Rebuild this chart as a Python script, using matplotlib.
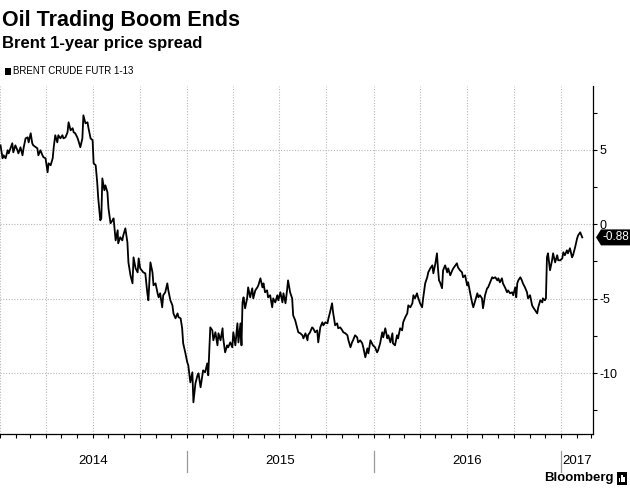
"""
Oil Trading Boom Ends -- Brent 1-year price spread (Bloomberg style).
Single right-axis line chart, saved to out.png (630 x 490 px).
"""
import matplotlib
matplotlib.use("Agg")
import matplotlib.pyplot as plt
import matplotlib.dates as mdates
import pandas as pd
from matplotlib.lines import Line2D
from matplotlib.patches import Polygon, Rectangle
from matplotlib.transforms import blended_transform_factory

plt.rcParams["font.family"] = ["Liberation Sans", "DejaVu Sans"]

# days since START, and the spread (USD/bbl)
START = "2014-01-01"
DAYS = [
    1, 5, 7, 11, 15, 17, 24, 26, 30, 34, 36, 40, 44, 46, 50, 54, 56, 60, 63, 65,
    73, 75, 79, 83, 85, 89, 93, 95, 99, 103, 105, 108, 112, 114, 118, 122, 124, 128, 132, 134,
    138, 142, 144, 147, 151, 153, 157, 161, 163, 167, 171, 173, 177, 181,
    183, 187, 190, 192, 196, 198, 200, 204, 206, 210, 212, 216, 220, 222, 226, 230, 231, 235, 239, 241,
    245, 249, 251, 255, 259, 261, 265, 269, 271, 274, 280, 284, 288, 290, 294, 298, 300, 304, 308, 310,
    313, 317, 319, 323, 327, 329, 333, 337, 339, 343, 347, 349, 353, 356, 358, 362, 366, 368, 372, 376,
    378, 382, 386, 388,
    392, 397, 401, 405, 407, 411, 415, 417, 421, 425, 427, 431, 435, 436, 440, 444, 446, 450, 454, 456,
    460, 464, 466, 470, 472, 474, 476, 479, 483, 485, 489, 493, 495, 499, 503, 505, 509, 513, 515, 518,
    522, 524, 528, 532, 534, 538, 542, 544, 548, 552, 554, 558, 561, 563, 567, 571, 573, 577, 581,
    583, 587, 591, 593, 597, 601, 602, 606, 610, 612, 616, 620, 622, 626, 630, 632, 636, 640, 642, 645,
    649, 651, 655, 659, 661, 665, 669, 671, 675, 679, 681, 685, 688, 690, 694, 698, 700, 704, 708, 710,
    714, 718, 720, 724, 727, 729, 733, 737, 739, 743, 747, 749, 753, 757, 759, 763, 767, 768, 772, 776,
    778, 782, 786,
    788, 792, 796, 798, 802, 806, 808, 811, 815, 817, 821, 825, 827, 831, 835, 837, 841, 845, 847, 851,
    854, 856, 858, 860, 864, 866, 870, 874, 876, 880, 884, 886, 890, 893, 895, 899, 903, 905, 909, 913,
    915, 919, 923, 925, 929, 933, 935, 938, 942, 944, 948, 952, 954, 958, 962, 964, 968, 972,
    974, 977, 981, 983, 987, 991, 993, 997, 1001, 1003, 1007, 1009, 1011, 1013, 1017, 1020, 1022, 1026, 1030, 1032,
    1036, 1040, 1042, 1046, 1050, 1052, 1056, 1060, 1061, 1065, 1067, 1069, 1071, 1075, 1079, 1081, 1085, 1089, 1091, 1095,
    1099, 1101, 1104, 1108, 1110, 1114, 1118, 1120, 1124, 1128, 1130, 1134, 1138,
]
SPREAD = [
    5.31, 4.44, 4.64, 4.44, 4.98, 4.77, 5.45, 4.84, 5.31, 4.98, 4.77, 5.18, 4.64, 5.11, 5.78, 5.85, 5.51, 6.12, 5.45, 5.31,
    5.11, 4.64, 4.98, 4.64, 4.51, 4.44, 3.50, 4.10, 3.97, 4.44, 5.18, 5.99, 5.51, 5.99, 5.78, 5.99, 5.78, 5.85, 6.19, 6.86,
    6.32, 6.46, 6.19, 6.12, 5.85, 5.65, 5.18, 5.78, 7.33, 6.79, 6.86, 6.46, 5.78, 5.65,
    4.10, 3.97, 2.82, 1.75, 0.27, 0.40, 3.09, 2.29, 2.62, 2.15, 1.08, 0.07, 0.27, 0.40, -1.08, -0.40, -1.28, -0.87, -1.08, -0.74,
    -0.27, -1.21, -2.56, -3.43, -3.97, -2.22, -2.96, -3.23, -2.29, -2.96, -3.23, -3.30, -4.64, -5.11, -2.56, -3.23, -4.10, -3.97, -4.64, -4.91,
    -4.64, -5.58, -4.77, -4.57, -3.97, -4.44, -5.11, -5.45, -5.99, -6.32, -5.99, -6.25, -6.32, -6.99, -8.00, -8.61, -9.28, -9.48, -10.63, -9.95,
    -11.97, -10.69, -10.15, -10.02,
    -10.96, -9.82, -9.95, -9.35, -10.15, -6.93, -7.13, -7.80, -7.26, -8.14, -7.33, -7.80, -6.99, -7.60, -8.61, -8.14, -8.27, -7.94, -8.27, -7.26,
    -8.14, -6.66, -7.94, -6.66, -8.14, -5.25, -4.91, -5.65, -4.98, -4.24, -4.91, -4.30, -4.98, -4.44, -4.24, -4.10, -3.63, -4.24, -3.97, -4.57,
    -4.44, -4.91, -4.77, -5.58, -4.98, -5.25, -4.77, -5.11, -4.57, -5.25, -4.64, -5.31, -4.44, -3.77, -4.57, -4.98, -6.12, -6.46, -6.99,
    -7.26, -7.33, -7.46, -7.67, -7.33, -7.80, -7.46, -7.26, -6.93, -6.99, -7.26, -7.13, -7.94, -6.93, -6.59, -6.79, -6.59, -6.66, -6.32, -5.92,
    -5.31, -5.92, -6.79, -6.66, -6.99, -6.93, -7.13, -7.26, -7.33, -7.46, -7.80, -8.27, -7.94, -7.80, -7.46, -7.60, -7.94, -7.80, -8.00, -8.27,
    -8.94, -8.34, -8.68, -7.80, -8.00, -8.14, -8.27, -8.61, -8.47, -8.00, -7.26, -7.60, -6.99, -7.67, -7.46, -7.94, -7.33, -8.00, -8.14, -7.46,
    -7.67, -6.99, -7.13,
    -6.59, -6.25, -5.99, -5.45, -5.58, -5.31, -4.77, -4.98, -4.64, -4.91, -5.31, -5.58, -4.98, -3.97, -3.56, -3.23, -2.96, -2.76, -3.30, -2.62,
    -1.95, -2.96, -3.77, -3.90, -4.30, -3.09, -2.76, -3.23, -2.96, -3.43, -3.09, -2.96, -2.76, -2.62, -2.89, -3.09, -3.23, -3.56, -3.43, -4.10,
    -3.90, -4.64, -5.31, -5.58, -5.11, -4.64, -4.91, -4.77, -4.98, -5.65, -4.77, -4.30, -4.24, -3.90, -3.56, -3.63, -3.56, -3.77,
    -3.63, -3.90, -3.63, -3.97, -4.24, -4.57, -4.44, -4.64, -4.57, -4.77, -4.24, -4.91, -3.97, -3.77, -3.56, -3.77, -3.97, -4.24, -4.57, -4.98,
    -4.77, -5.45, -5.58, -5.78, -5.99, -5.58, -5.11, -5.25, -4.98, -5.11, -4.98, -2.22, -1.95, -3.09, -2.42, -1.95, -2.56, -2.08, -2.42, -2.42,
    -2.29, -1.88, -2.08, -1.75, -1.95, -1.61, -2.22, -2.08, -1.55, -0.94, -0.74, -0.54, -0.88,
]
YEARS = [2014, 2015, 2016, 2017]
Y_TICKS = [5, 0, -5, -10]
X_END = "2017-03-05"

TITLE = "Oil Trading Boom Ends"
SUBTITLE = "Brent 1-year price spread"
SERIES = "BRENT CRUDE FUTR 1-13"

W, H = 630, 490


def main():
    fig = plt.figure(figsize=(W / 100, H / 100), dpi=100)
    ax = fig.add_axes([0, 1 - 434 / H, 593 / W, (434 - 86) / H])

    dates = pd.Timestamp(START) + pd.to_timedelta(DAYS, unit="D")
    ax.plot(dates, SPREAD, color="black", lw=1.3)

    x0, x1 = pd.Timestamp(START), pd.Timestamp(X_END)
    ax.set_xlim(x0, x1)
    ax.set_ylim(-14.1, 9.3)

    # right-hand value axis
    ax.yaxis.tick_right()
    ax.set_yticks(Y_TICKS)
    ax.set_yticklabels([str(t) for t in Y_TICKS])
    ax.set_yticks([7.5, 2.5, -2.5, -7.5, -12.5], minor=True)
    ax.tick_params(axis="y", which="both", direction="out", length=3, width=0.8,
                   labelsize=9, pad=2)

    # monthly ticks, quarterly grid
    ax.xaxis.set_major_locator(mdates.MonthLocator(bymonth=[1, 4, 7, 10]))
    ax.xaxis.set_minor_locator(mdates.MonthLocator())
    ax.tick_params(axis="x", which="both", direction="out", length=3, width=0.8,
                   labelbottom=False)
    ax.grid(True, which="major", color="#b8b8b8", linestyle=(0, (1, 1.5)), lw=0.8)

    for side in ("left", "top"):
        ax.spines[side].set_visible(False)
    for side in ("right", "bottom"):
        ax.spines[side].set_linewidth(0.9)

    # year labels centred in visible span, with separators
    tr = blended_transform_factory(ax.transData, fig.transFigure)
    n0, n1 = mdates.date2num(x0), mdates.date2num(x1)
    for yr in YEARS:
        a = max(mdates.date2num(pd.Timestamp(f"{yr}-01-01")), n0)
        b = min(mdates.date2num(pd.Timestamp(f"{yr + 1}-01-01")), n1)
        fig.text((a + b) / 2, 1 - 461 / H, str(yr), transform=tr,
                 ha="center", va="center", fontsize=9.5)
        sep = mdates.date2num(pd.Timestamp(f"{yr}-01-01"))
        if n0 < sep < n1:
            fig.add_artist(Line2D([sep, sep], [1 - 451 / H, 1 - 472 / H],
                                  transform=tr, color="#999999", lw=0.9))

    # last-value tag
    last = SPREAD[-1]
    _, yc = fig.transFigure.inverted().transform(
        ax.transData.transform((mdates.date2num(dates[-1]), last)))
    hy = 8 / H
    fig.add_artist(Polygon([(596 / W, yc), (601 / W, yc + hy), (1.0, yc + hy),
                            (1.0, yc - hy), (601 / W, yc - hy)],
                           closed=True, facecolor="black", edgecolor="none",
                           transform=fig.transFigure))
    fig.text(615.5 / W, yc, f"{last:.2f}", color="white", ha="center",
             va="center", fontsize=8.5)

    # header
    fig.text(2 / W, 1 - 26 / H, TITLE, fontsize=15.5, fontweight="bold",
             va="baseline")
    fig.text(2 / W, 1 - 48 / H, SUBTITLE, fontsize=12, fontweight="bold",
             va="baseline")
    fig.add_artist(Rectangle((5 / W, 1 - 75 / H), 6 / W, 7 / H,
                             facecolor="black", transform=fig.transFigure))
    fig.text(13 / W, 1 - 71.5 / H, SERIES, fontsize=7, va="center")

    # source mark
    fig.text(614 / W, 1 - 478 / H, "Bloomberg", fontsize=9.5,
             fontweight="bold", ha="right", va="center")
    fig.add_artist(Rectangle((617 / W, 1 - 485 / H), 10 / W, 13 / H,
                             facecolor="black", transform=fig.transFigure))
    for i, hgt in enumerate([4, 7, 5]):
        fig.add_artist(Rectangle(((619 + 2.2 * i) / W, 1 - 482 / H), 1.4 / W,
                                 hgt / H, facecolor="white", edgecolor="none",
                                 transform=fig.transFigure))

    fig.savefig("out.png", dpi=100)
    plt.close(fig)


if __name__ == "__main__":
    main()
